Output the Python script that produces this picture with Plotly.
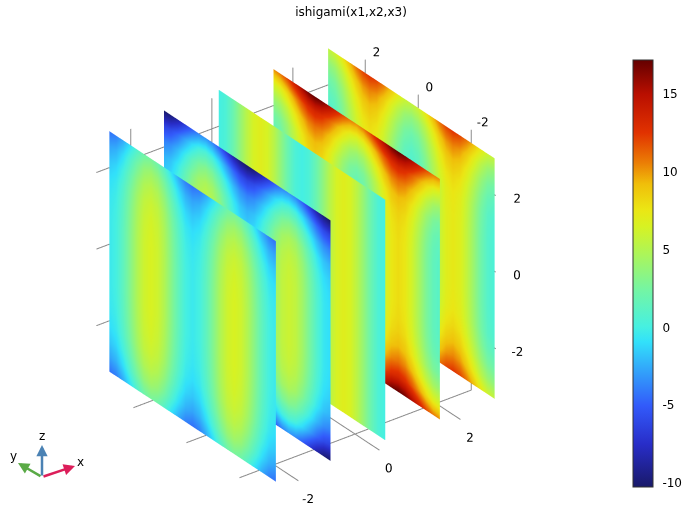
import plotly.graph_objects as go

# slice positions and sample grid
slice_x = [-2.7, -1.35, 0, 1.35, 2.7]
grid_y = [-3.14, -2.88, -2.62, -2.36, -2.09, -1.83, -1.57, -1.31, -1.05, -0.79, -0.52, -0.26, 0,
          0.26, 0.52, 0.79, 1.05, 1.31, 1.57, 1.83, 2.09, 2.36, 2.62, 2.88, 3.14]
grid_z = [3.14, 2.75, 2.35, 1.95, 1.55, 1.2, 0.8, 0.4, 0, -0.4, -0.8, -1.2, -1.55, -1.95, -2.35, -2.75, -3.14]

# values per slice. the slices look mirrored, so rows run top edge -> middle (z = 0)
# and columns run from the y edge to the first band crest (y = -3.14 .. -1.57)
slice1 = [
    [-4.4, -3.9, -2.6, -0.9, 0.8, 2.1, 2.6],
    [-2.8, -2.3, -1.0, 0.7, 2.4, 3.7, 4.2],
    [-1.7, -1.2, 0.1, 1.8, 3.5, 4.8, 5.3],
    [-1.0, -0.5, 0.8, 2.5, 4.2, 5.5, 6.0],
    [-0.65, -0.15, 1.15, 2.85, 4.55, 5.85, 6.35],
    [-0.5, 0.0, 1.3, 3.0, 4.7, 6.0, 6.5],
    [-0.4, 0.1, 1.4, 3.1, 4.8, 6.1, 6.6],
    [-0.4, 0.1, 1.4, 3.1, 4.8, 6.1, 6.6],
    [-0.4, 0.1, 1.4, 3.1, 4.8, 6.1, 6.6],
]
slice2 = [
    [-10.25, -9.75, -8.45, -6.75, -5.05, -3.75, -3.25],
    [-6.4, -5.9, -4.6, -2.9, -1.2, 0.1, 0.6],
    [-3.9, -3.4, -2.1, -0.4, 1.3, 2.6, 3.1],
    [-2.3, -1.8, -0.5, 1.2, 2.9, 4.2, 4.7],
    [-1.5, -1.0, 0.3, 2.0, 3.7, 5.0, 5.5],
    [-1.15, -0.65, 0.65, 2.35, 4.05, 5.35, 5.85],
    [-1.0, -0.5, 0.8, 2.5, 4.2, 5.5, 6.0],
    [-1.0, -0.5, 0.8, 2.5, 4.2, 5.5, 6.0],
    [-1.0, -0.5, 0.8, 2.5, 4.2, 5.5, 6.0],
]
slice3 = [
    [0.0, 0.5, 1.8, 3.5, 5.2, 6.5, 7.0],
    [0.0, 0.5, 1.8, 3.5, 5.2, 6.5, 7.0],
    [0.0, 0.5, 1.8, 3.5, 5.2, 6.5, 7.0],
    [0.0, 0.5, 1.8, 3.5, 5.2, 6.5, 7.0],
    [0.0, 0.5, 1.8, 3.5, 5.2, 6.5, 7.0],
    [0.0, 0.5, 1.8, 3.5, 5.2, 6.5, 7.0],
    [0.0, 0.5, 1.8, 3.5, 5.2, 6.5, 7.0],
    [0.0, 0.5, 1.8, 3.5, 5.2, 6.5, 7.0],
    [0.0, 0.5, 1.8, 3.5, 5.2, 6.5, 7.0],
]
slice4 = [
    [10.25, 10.75, 12.05, 13.75, 15.45, 16.75, 17.25],
    [6.4, 6.9, 8.2, 9.9, 11.6, 12.9, 13.4],
    [3.9, 4.4, 5.7, 7.4, 9.1, 10.4, 10.9],
    [2.3, 2.8, 4.1, 5.8, 7.5, 8.8, 9.3],
    [1.5, 2.0, 3.3, 5.0, 6.7, 8.0, 8.5],
    [1.15, 1.65, 2.95, 4.65, 6.35, 7.65, 8.15],
    [1.0, 1.5, 2.8, 4.5, 6.2, 7.5, 8.0],
    [1.0, 1.5, 2.8, 4.5, 6.2, 7.5, 8.0],
    [1.0, 1.5, 2.8, 4.5, 6.2, 7.5, 8.0],
]
slice5 = [
    [5.6, 6.1, 7.4, 9.1, 10.8, 12.1, 12.6],
    [3.5, 4.0, 5.3, 7.0, 8.7, 10.0, 10.5],
    [2.1, 2.6, 3.9, 5.6, 7.3, 8.6, 9.1],
    [1.2, 1.7, 3.0, 4.7, 6.4, 7.7, 8.2],
    [0.65, 1.15, 2.45, 4.15, 5.85, 7.15, 7.65],
    [0.5, 1.0, 2.3, 4.0, 5.7, 7.0, 7.5],
    [0.4, 0.9, 2.2, 3.9, 5.6, 6.9, 7.4],
    [0.4, 0.9, 2.2, 3.9, 5.6, 6.9, 7.4],
    [0.4, 0.9, 2.2, 3.9, 5.6, 6.9, 7.4],
]
slices = [slice1, slice2, slice3, slice4, slice5]

ticks = [-2, 0, 2]
cbar_ticks = [-10, -5, 0, 5, 10, 15]
cmin, cmax = -10.26, 17.2

# colours
colors = [
    [0.00, "rgb(25,25,105)"],
    [0.10, "rgb(40,45,200)"],
    [0.19, "rgb(50,90,250)"],
    [0.28, "rgb(50,170,250)"],
    [0.34, "rgb(50,225,250)"],
    [0.375, "rgb(70,240,225)"],
    [0.46, "rgb(115,245,165)"],
    [0.55, "rgb(175,245,85)"],
    [0.61, "rgb(215,242,35)"],
    [0.65, "rgb(235,230,20)"],
    [0.71, "rgb(240,190,10)"],
    [0.76, "rgb(235,125,5)"],
    [0.83, "rgb(225,50,0)"],
    [0.92, "rgb(185,15,0)"],
    [1.00, "rgb(100,0,0)"],
]

# where the walls and the tick stubs sit
floor_z = -3.5
wall_x = 2.87
wall_y = 3.4
front_x = -2.85
front_y = -2.92
text_font = dict(family="DejaVu Sans", size=12, color="black")


def unfold(rows):
    # mirror the quarter period out to the whole y range, then top half to bottom half
    wide = []
    for r in rows:
        half = r + r[-2::-1]
        wide.append(half + half[1:])
    return wide + wide[-2::-1]


fig = go.Figure()

# the five slices
for i, (pos, rows) in enumerate(zip(slice_x, slices)):
    fig.add_trace(go.Surface(
        x=[[pos] * len(grid_y) for _ in grid_z],
        y=[grid_y for _ in grid_z],
        z=[[v] * len(grid_y) for v in grid_z],
        surfacecolor=unfold(rows),
        colorscale=colors, cmin=cmin, cmax=cmax,
        showscale=i == 0,
        hoverinfo="skip",
        lighting=dict(ambient=1, diffuse=0, specular=0, fresnel=0, roughness=1),
        colorbar=dict(
            x=633 / 683, xanchor="left", xpad=0, ypad=0,
            y=(513 - 273.5) / 513, yanchor="middle",
            len=427 / 513, lenmode="fraction",
            thickness=20, thicknessmode="pixels",
            outlinecolor="#333333", outlinewidth=1,
            tickmode="array", tickvals=cbar_ticks, ticktext=[str(t) for t in cbar_ticks],
            ticks="outside", ticklen=7, tickcolor="rgba(0,0,0,0)",
            tickfont=text_font,
        ),
    ))

# grid on the three back walls, with a tick stub past the edge
gx, gy, gz = [], [], []
def seg(a, b):
    gx.extend([a[0], b[0], None])
    gy.extend([a[1], b[1], None])
    gz.extend([a[2], b[2], None])

for t in ticks:
    seg((t, front_y, floor_z), (t, wall_y, floor_z))
    seg((front_x, t, floor_z), (wall_x, t, floor_z))
    seg((t, wall_y, floor_z), (t, wall_y, 2.8))
    seg((front_x, wall_y, t), (wall_x, wall_y, t))
    seg((wall_x, t, floor_z), (wall_x, t, 3.3))
    seg((wall_x, front_y, t), (wall_x, wall_y, t))

fig.add_trace(go.Scatter3d(x=gx, y=gy, z=gz, mode="lines", hoverinfo="skip",
                           line=dict(color="#8c8c8c", width=2), showlegend=False))

# tick labels
fig.add_trace(go.Scatter3d(
    x=ticks, y=[front_y - 0.35] * 3, z=[floor_z - 0.3] * 3,
    mode="text", text=[str(t) for t in ticks], textfont=text_font, textposition="middle center",
    hoverinfo="skip", showlegend=False))
fig.add_trace(go.Scatter3d(
    x=[wall_x + 0.27] * 3, y=ticks, z=[3.4] * 3,
    mode="text", text=[str(t) for t in ticks], textfont=text_font, textposition="middle center",
    hoverinfo="skip", showlegend=False))
fig.add_trace(go.Scatter3d(
    x=[wall_x] * 3, y=[front_y - 0.8] * 3, z=[t + 0.3 for t in ticks],
    mode="text", text=[str(t) for t in ticks], textfont=text_font, textposition="middle center",
    hoverinfo="skip", showlegend=False))

hidden = dict(visible=False, range=[-4.6, 4.6])
fig.update_layout(
    width=683, height=513,
    margin=dict(l=0, r=0, t=0, b=0),
    paper_bgcolor="white",
    font=dict(family="DejaVu Sans"),
    title=dict(text="ishigami(x1,x2,x3)", x=351 / 683, xanchor="center",
               y=1 - 12 / 513, yanchor="middle",
               font=dict(family="DejaVu Sans", size=12, color="black")),
    scene=dict(
        xaxis=hidden, yaxis=hidden, zaxis=hidden,
        aspectmode="manual", aspectratio=dict(x=1.885, y=1.63, z=1.64),
        domain=dict(x=[0, 0.884], y=[0, 0.967]),
        camera=dict(eye=dict(x=-1.15, y=-1.52, z=1.1),
                    center=dict(x=0, y=0, z=0), up=dict(x=0, y=0, z=1),
                    projection=dict(type="orthographic")),
    ),
    showlegend=False,
)

# tick marks on both sides of the colour bar
for v in cbar_ticks:
    yp = (26 + 427 * (v - cmin) / (cmax - cmin)) / 513
    for x0, x1 in [(633, 637), (649, 653)]:
        fig.add_shape(type="line", xref="paper", yref="paper",
                      x0=x0 / 683, x1=x1 / 683, y0=yp, y1=yp,
                      line=dict(color="#222222", width=1))

# orientation triad in the corner
triad = [("x", 33, 11, "#dc1e5a", 80, 462), ("y", -24, 14, "#5aaa46", 13, 456), ("z", 0, 32, "#4b82b4", 42, 436)]
for name, dx, dy, col, lx, ly in triad:
    fig.add_annotation(xref="paper", yref="paper", x=(42 + dx) / 683, y=(513 - 477 + dy) / 513,
                       ax=-dx, ay=dy, text="", showarrow=True,
                       arrowhead=2, arrowsize=0.9, arrowwidth=2.5, arrowcolor=col)
    fig.add_annotation(xref="paper", yref="paper", x=lx / 683, y=(513 - ly) / 513,
                       xanchor="center", yanchor="middle",
                       text=name, showarrow=False, font=text_font)

# the page's default body margin would push the figure off the window
fig.write_html("out.html", config=dict(displayModeBar=False),
               post_script="document.body.style.margin = '0';")
